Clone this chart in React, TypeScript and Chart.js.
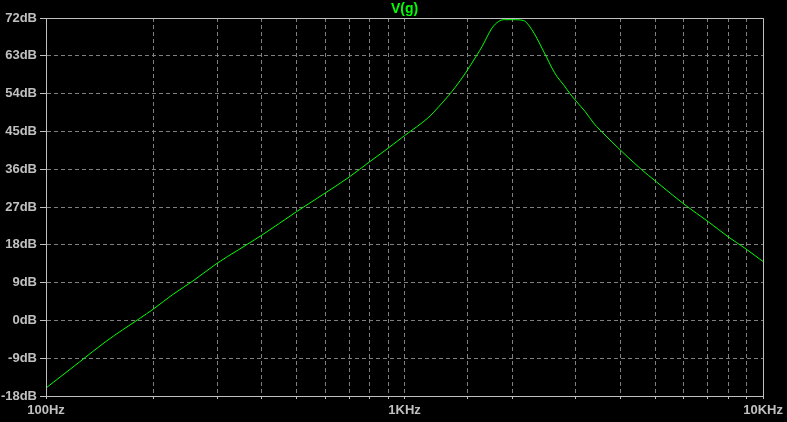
import React, { useEffect, useRef } from 'react';
import { Chart, registerables } from 'chart.js';

Chart.register(...registerables);

// Frequency response samples (Hz, dB)
const freqHz = [
  100, 124, 147, 182, 200, 226, 257, 300, 344, 400, 500, 600, 700, 800, 900,
  1000, 1169, 1246, 1329, 1387, 1479, 1593, 1645, 1753, 1830, 1902, 2000,
  2148, 2194, 2266, 2339, 2415, 2495, 2576, 2660, 2776, 2898, 3024, 3191,
  3365, 3512, 3932, 4539, 5038, 6055, 7030, 7991, 8892, 10000,
];
const gainDb = [
  -16.1, -9.9, -5.0, 0.4, 2.8, 6.2, 9.4, 13.6, 16.8, 20.3, 25.9, 30.3, 34.1,
  37.8, 41.0, 44.0, 48.4, 50.9, 53.6, 55.6, 58.9, 63.25, 65.2, 69.6, 71.2,
  71.6, 71.6, 71.4, 70.8, 69.2, 67.2, 64.85, 62.5, 60.1, 58.1, 56.1, 53.9,
  52.0, 49.7, 47.0, 45.3, 41.15, 36.2, 33.0, 27.5, 23.5, 19.9, 17.2, 14.0,
];
const seriesName = 'V(g)';

const xMinHz = 100;
const xMaxHz = 10000;
const xLabelValues = [100, 1000, 10000];
const xLabelTexts = ['100Hz', '1KHz', '10KHz'];

const yMinDb = -18;
const yMaxDb = 72;
const yStepDb = 9;

const AXIS_COLOR = '#c0c0c0';
const GRID_COLOR = '#808080';
const CURVE_COLOR = '#00ff00';
const FONT_FAMILY = "'Liberation Sans', Arial, sans-serif";

const framePlugin = {
  id: 'frame',
  afterDraw(chart: any) {
    const { ctx, chartArea } = chart;
    const l = Math.round(chartArea.left) + 0.5;
    const t = Math.round(chartArea.top) + 0.5;
    const r = Math.round(chartArea.right) + 0.5;
    const b = Math.round(chartArea.bottom) + 0.5;
    ctx.save();
    ctx.strokeStyle = AXIS_COLOR;
    ctx.lineWidth = 1;
    ctx.setLineDash([]);
    ctx.beginPath();
    ctx.moveTo(l, t);
    ctx.lineTo(r, t);
    ctx.lineTo(r, b);
    ctx.lineTo(l, b);
    ctx.closePath();
    ctx.stroke();
    ctx.restore();
  },
};

export default function App() {
  const canvasRef = useRef<HTMLCanvasElement | null>(null);

  useEffect(() => {
    document.body.style.margin = '0';
    document.body.style.background = '#000';
    const canvas = canvasRef.current;
    if (!canvas) return;
    const points = freqHz.map((f, i) => ({ x: f, y: gainDb[i] }));
    const chart = new Chart(canvas, {
      type: 'line',
      data: {
        datasets: [
          {
            label: seriesName,
            data: points,
            borderColor: CURVE_COLOR,
            backgroundColor: CURVE_COLOR,
            borderWidth: 1,
            pointRadius: 0,
            cubicInterpolationMode: 'monotone',
            fill: false,
          },
        ],
      },
      options: {
        responsive: false,
        animation: false,
        events: [],
        layout: { padding: { left: 0, top: 0, right: 22, bottom: 0 } },
        plugins: {
          legend: { display: false },
          tooltip: { enabled: false },
          title: {
            display: true,
            text: seriesName,
            color: CURVE_COLOR,
            fullSize: false,
            font: { family: FONT_FAMILY, size: 14, weight: 'bold', lineHeight: '16px' },
            padding: { top: 1, bottom: 1 },
          },
        },
        scales: {
          x: {
            type: 'logarithmic',
            min: xMinHz,
            max: xMaxHz,
            afterFit: (s: any) => {
              s.height = 26;
            },
            border: { display: true, color: AXIS_COLOR, width: 1, dash: [4, 3] },
            grid: {
              color: GRID_COLOR,
              lineWidth: 1,
              drawTicks: true,
              tickLength: 3,
              tickColor: AXIS_COLOR,
              tickBorderDash: [],
            },
            ticks: {
              autoSkip: false,
              maxRotation: 0,
              minRotation: 0,
              padding: 4,
              color: AXIS_COLOR,
              font: { family: FONT_FAMILY, size: 13, weight: 'bold' },
              callback: (v: any) => {
                const idx = xLabelValues.findIndex((lv) => Math.abs(lv - Number(v)) < 1e-6);
                return idx >= 0 ? xLabelTexts[idx] : '';
              },
            },
          },
          y: {
            type: 'linear',
            min: yMinDb,
            max: yMaxDb,
            afterFit: (s: any) => {
              s.width = 46;
            },
            border: { display: true, color: AXIS_COLOR, width: 1, dash: [4, 3] },
            grid: {
              color: GRID_COLOR,
              lineWidth: 1,
              drawTicks: true,
              tickLength: 6,
              tickColor: AXIS_COLOR,
              tickBorderDash: [],
            },
            ticks: {
              stepSize: yStepDb,
              padding: 3,
              color: AXIS_COLOR,
              font: { family: FONT_FAMILY, size: 13, weight: 'bold' },
              callback: (v: any) => `${v}dB`,
            },
          },
        },
      },
      plugins: [framePlugin],
    } as any);
    return () => chart.destroy();
  }, []);

  return (
    <div style={{ position: 'absolute', left: 0, top: 0, width: 787, height: 422, background: '#000' }}>
      <canvas ref={canvasRef} width={787} height={422} style={{ display: 'block', background: '#000' }} />
    </div>
  );
}
